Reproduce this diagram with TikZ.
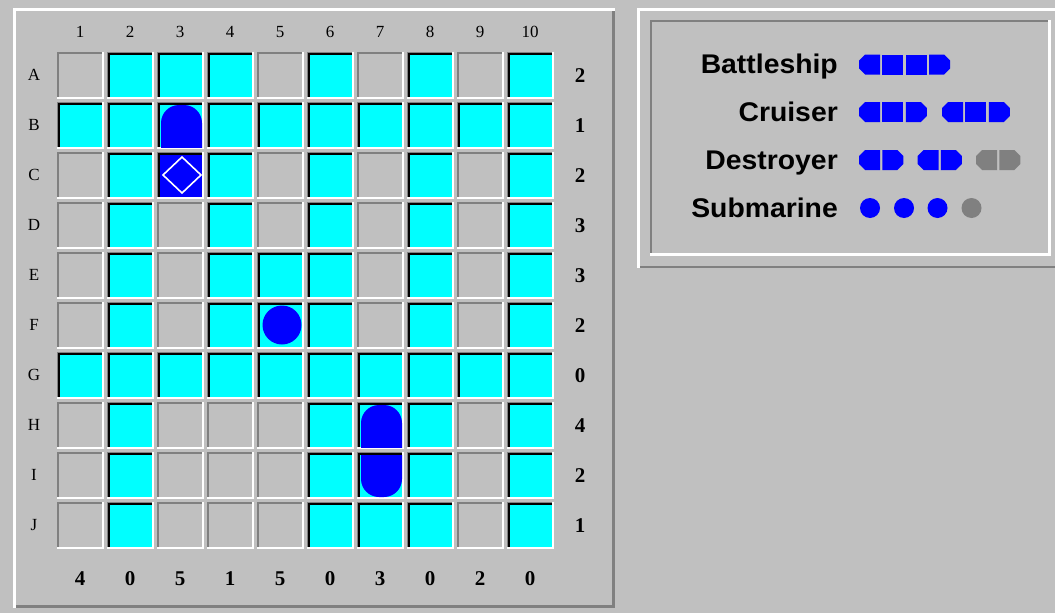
\documentclass[tikz,border=0pt]{standalone}
\usepackage{fontspec}
\setmainfont{Liberation Serif}
\newfontfamily\legendfont[FakeStretch=1.05]{Liberation Sans}
\definecolor{PanelG}{HTML}{C0C0C0}
\definecolor{EdgeG}{HTML}{808080}
\definecolor{WaterC}{HTML}{00FFFF}
\definecolor{ShipB}{HTML}{0000FF}
\definecolor{SunkG}{HTML}{808080}
\tikzset{
  gridlab/.style={font=\fontsize{17}{17}\selectfont, inner sep=0pt},
  clue/.style={font=\fontsize{21}{21}\selectfont\bfseries, inner sep=0pt},
  legtext/.style={font=\legendfont\fontsize{27}{27}\selectfont\bfseries, anchor=base east, inner sep=0pt},
  ship/.style={fill=ShipB},
  sunk/.style={fill=SunkG}
}
\newcommand{\cellbox}[2]{%
  \pgfmathsetmacro\cL{57+50*(#1-1)}\pgfmathsetmacro\cT{52+50*(#2-1)}%
  \fill[white] (\cL,\cT) rectangle ({\cL+47},{\cT+47});
  \fill[EdgeG] (\cL,\cT) rectangle ({\cL+45},{\cT+45});
  \fill[PanelG] ({\cL+1.5},{\cT+1.5}) rectangle ({\cL+45},{\cT+45});}
\newcommand{\seacell}[2]{%
  \pgfmathsetmacro\cL{57+50*(#1-1)}\pgfmathsetmacro\cT{52+50*(#2-1)}%
  \fill[black] ({\cL+1},{\cT+1}) rectangle ({\cL+45},{\cT+45});
  \fill[WaterC] ({\cL+3},{\cT+3}) rectangle ({\cL+45},{\cT+45});}
\newcommand{\shipend}[4]{%
  \pgfmathsetmacro\cL{57+50*(#1-1)}\pgfmathsetmacro\cT{52+50*(#2-1)}%
  \begin{scope}
    \clip ({\cL+3},{\cT+3}) rectangle ({\cL+45},{\cT+45});
    \fill[ship, rounded corners=18] ({\cL+4},{\cT+#3}) rectangle ({\cL+45},{\cT+#4});
  \end{scope}}
\newcommand{\segL}[3]{\fill[#3] ({#1+6},{#2-10}) -- ({#1+21},{#2-10}) -- ({#1+21},{#2+10}) -- ({#1+6},{#2+10}) -- (#1,{#2+4}) -- (#1,{#2-4}) -- cycle;}
\newcommand{\segM}[3]{\fill[#3] (#1,{#2-10}) rectangle ({#1+21},{#2+10});}
\newcommand{\segR}[3]{\fill[#3] (#1,{#2-10}) -- ({#1+15},{#2-10}) -- ({#1+21},{#2-4}) -- ({#1+21},{#2+4}) -- ({#1+15},{#2+10}) -- (#1,{#2+10}) -- cycle;}
\begin{document}
\begin{tikzpicture}[x=1pt,y=-1pt]
  \useasboundingbox (0,0) rectangle (1055,613);
  \fill[PanelG] (0,0) rectangle (1055,613);

  \fill[white] (13,8) rectangle (615,608);
  \fill[EdgeG] (15.5,10.5) rectangle (615,608);
  \fill[PanelG] (15.5,10.5) rectangle (612,605);

  \fill[white] (637,8) rectangle (1055,268);
  \fill[EdgeG] (639.5,10.5) rectangle (1055,268);
  \fill[PanelG] (639.5,10.5) rectangle (1055,265.5);
  \fill[white] (650,20) rectangle (1050.5,255.5);
  \fill[EdgeG] (650,20) rectangle (1048,253);
  \fill[PanelG] (652,22) rectangle (1048,253);

  \foreach \r in {1,...,10}
    \foreach \c in {1,...,10}
      \cellbox{\c}{\r};
  \foreach \r/\cols in {1/{2,3,4,6,8,10}, 2/{1,2,3,4,5,6,7,8,9,10}, 3/{2,3,4,6,8,10},
      4/{2,4,6,8,10}, 5/{2,4,5,6,8,10}, 6/{2,4,5,6,8,10}, 7/{1,2,3,4,5,6,7,8,9,10},
      8/{2,6,7,8,10}, 9/{2,6,7,8,10}, 10/{2,6,7,8,10}}
    \foreach \c in \cols
      \seacell{\c}{\r};

  \shipend{3}{2}{3}{90}
  \shipend{7}{8}{3}{90}
  \shipend{7}{9}{-45}{45}
  \fill[ship] (160,155) rectangle (202,197);
  \draw[white, line width=1.6pt] (182,157) -- (201,175) -- (182,193) -- (163,175) -- cycle;
  \fill[ship] (282,325) circle[radius=19.5];

  \foreach \l [count=\c] in {1,2,3,4,5,6,7,8,9,10}
    \node[gridlab] (col\c) at ({80+50*(\c-1)},32) {\l};
  \foreach \l [count=\r] in {A,B,C,D,E,F,G,H,I,J}
    \node[gridlab] (row\l) at (34,{75+50*(\r-1)}) {\l};
  \foreach \v [count=\r] in {2,1,2,3,3,2,0,4,2,1}
    \node[clue] (rclue\r) at (580,{76+50*(\r-1)}) {\v};
  \foreach \v [count=\c] in {4,0,5,1,5,0,3,0,2,0}
    \node[clue] (cclue\c) at ({80+50*(\c-1)},579) {\v};

  \node[legtext] (lgbattle) at (838,73.5) {Battleship};
  \node[legtext] (lgcruiser) at (838,121) {Cruiser};
  \node[legtext] (lgdestroyer) at (838,169) {Destroyer};
  \node[legtext] (lgsub) at (838,217) {Submarine};

  \segL{859}{64.5}{ShipB} \segM{882.4}{64.5}{ShipB} \segM{905.8}{64.5}{ShipB} \segR{929.2}{64.5}{ShipB}
  \foreach \x in {859,942}{
    \segL{\x}{112}{ShipB} \segM{\x+23.4}{112}{ShipB} \segR{\x+46.8}{112}{ShipB}}
  \foreach \x/\col in {859/ShipB,917.5/ShipB,976/SunkG}{
    \segL{\x}{160}{\col} \segR{\x+23.4}{160}{\col}}
  \foreach \x/\col in {870/ship,904/ship,937.5/ship,971.5/sunk}
    \fill[\col] (\x,208) circle[radius=10];
\end{tikzpicture}
\end{document}
